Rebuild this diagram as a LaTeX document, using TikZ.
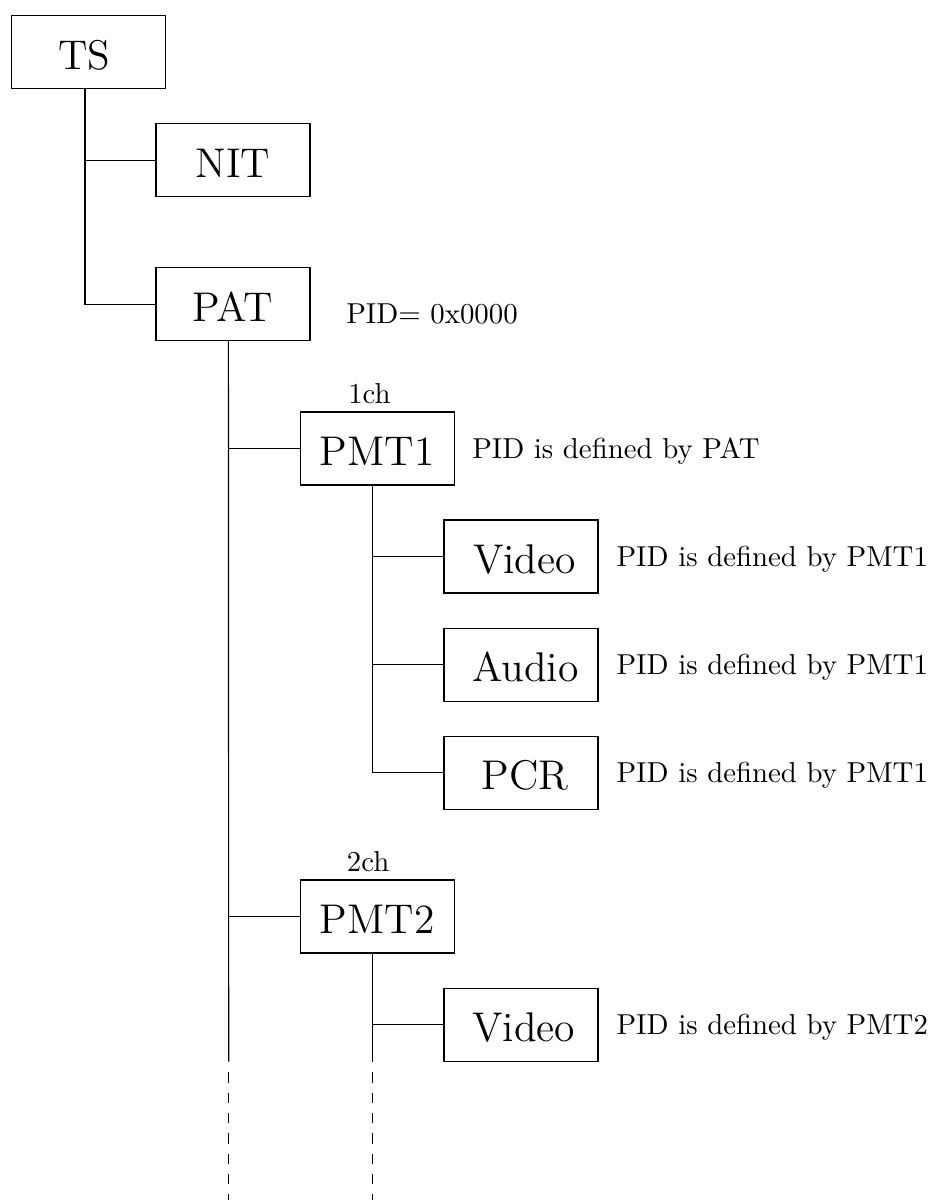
\documentclass[tikz,border=0pt]{standalone}
\usetikzlibrary{calc}
\begin{document}
\begin{tikzpicture}[x=0.34675pt,y=-0.34675pt,
  box/.style={draw,minimum width=53.4pt,minimum height=25.3pt,inner sep=0pt,
    text height=11.8pt,text depth=0pt,font=\Large},
  note/.style={inner sep=0pt,anchor=base west,font=\normalsize},
  trail/.style={dash pattern=on 3.64pt off 3.4pt}]
\useasboundingbox (0,0) rectangle (931,1200);
% boxes
\node[box] (TS)   at (88.7,52.3)   {TS\hspace*{3.1pt}};
\node[box] (NIT)  at (233,160.3)   {NIT};
\node[box] (PAT)  at (233,304.3)   {PAT};
\node[box] (PMT1) at (377.3,448.5) {PMT1};
\node[box] (V1)   at (521,556.5)   {\hspace*{2.4pt}Video};
\node[box] (A1)   at (521,664.6)   {\hspace*{3pt}Audio};
\node[box] (C1)   at (521,772.7)   {\hspace*{3pt}PCR};
\node[box] (PMT2) at (377.3,916.5) {PMT2};
\node[box] (V2)   at (521,1024.8)  {\hspace*{2pt}Video};
% notes
\node[note] (nPAT)  at (345.7,324)  {PID= 0x0000};
\node[note] (ch1)   at (347.7,404)  {1ch};
\node[note] (nPMT1) at (471.7,458)  {PID is defined by PAT};
\node[note] (nV1)   at (616,566)    {PID is defined by PMT1};
\node[note] (nA1)   at (616,674.5)  {PID is defined by PMT1};
\node[note] (nC1)   at (616,782)    {PID is defined by PMT1};
\node[note] (ch2)   at (346.3,871.7){2ch};
\node[note] (nV2)   at (616,1034.4) {PID is defined by PMT2};
% trunk coordinates
\coordinate (tsTop)   at ($(TS.south)+(-3.7,0)$);
\coordinate (patTop)  at ($(PAT.south)+(-4.6,0)$);
\coordinate (pmtTop)  at ($(PMT1.south)+(-4.6,0)$);
\coordinate (pmt2Top) at ($(PMT2.south)+(-4.6,0)$);
\coordinate (patEnd)  at (228.7,1061.5);
\coordinate (patDash) at (228.7,1072.3);
\coordinate (patBot)  at (228.7,1200);
\coordinate (p2End)   at (372.7,1061.5);
\coordinate (p2Dash)  at (372.7,1072.3);
\coordinate (p2Bot)   at (372.7,1200);
% connectors
\draw (tsTop) |- (NIT.west);
\draw (tsTop) |- (PAT.west);
\draw (patTop) |- (PMT1.west);
\draw (patTop) |- (PMT2.west);
\draw (patTop) -- (patEnd);
\draw[trail] (patDash) -- (patBot);
\draw (pmtTop) |- (V1.west);
\draw (pmtTop) |- (A1.west);
\draw (pmtTop) |- (C1.west);
\draw (pmt2Top) |- (V2.west);
\draw (pmt2Top) -- (p2End);
\draw[trail] (p2Dash) -- (p2Bot);
\end{tikzpicture}
\end{document}
